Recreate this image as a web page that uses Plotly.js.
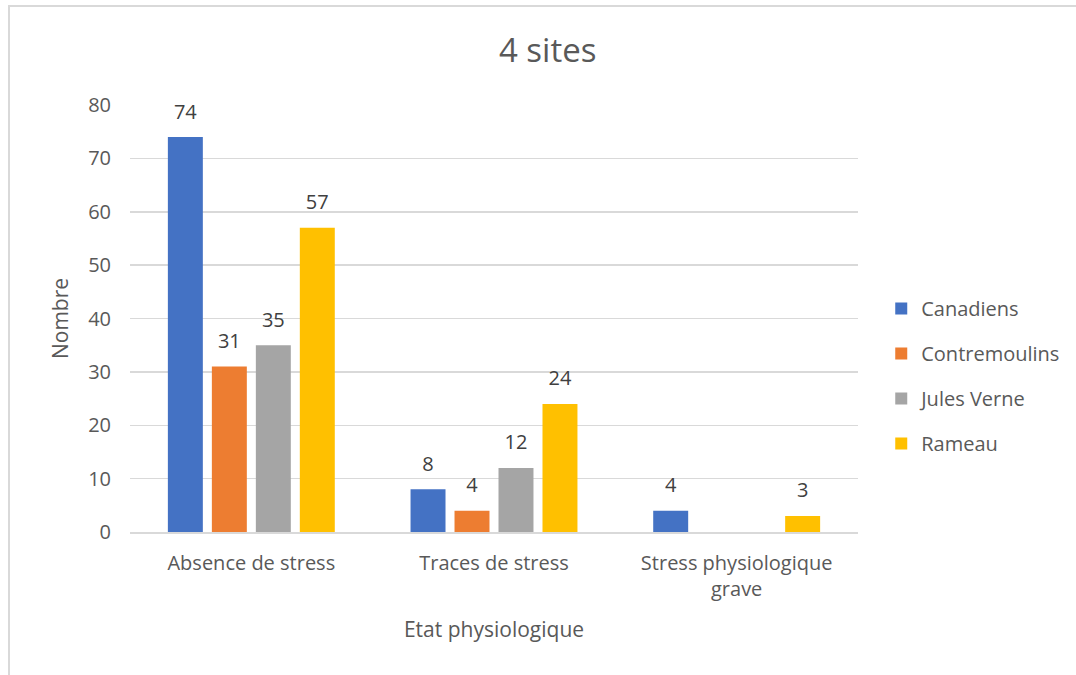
<!DOCTYPE html>
<html><head><meta charset="utf-8">
<script src="https://cdn.plot.ly/plotly-3.0.1.min.js"></script>
<style>
body{margin:0;padding:0;background:#fff;}
#plot{position:absolute;left:0;top:0;width:1076px;height:675px;}
#frame{position:absolute;left:8px;top:5px;width:1100px;height:700px;border:2px solid #d9d9d9;pointer-events:none;}
</style></head>
<body>
<div id="plot"></div>
<div id="frame"></div>
<script>
const categories = ["Absence de stress", "Traces de stress", "Stress physiologique<br>grave"];
const seriesNames = ["Canadiens", "Contremoulins", "Jules Verne", "Rameau"];
const canadiens = [74, 8, 4];
const contremoulins = [31, 4, 0];
const julesVerne = [35, 12, 0];
const rameau = [57, 24, 3];
const colors = ["#4472C4", "#ED7D31", "#A5A5A5", "#FFC000"];
const allValues = [canadiens, contremoulins, julesVerne, rameau];

const font = "Open Sans, Noto Sans, sans-serif";
const traces = [];
allValues.forEach((vals, i) => {
  traces.push({
    type: "bar",
    name: seriesNames[i],
    x: categories,
    y: vals,
    legendgroup: "g" + i,
    offsetgroup: "o" + i,
    alignmentgroup: "a",
    marker: {color: colors[i]},
    hoverinfo: "x+y+name"
  });
});
allValues.forEach((vals, i) => {
  traces.push({
    type: "scatter",
    mode: "markers+text",
    x: categories,
    y: vals,
    offsetgroup: "o" + i,
    alignmentgroup: "a",
    showlegend: false,
    marker: {size: 20, color: "rgba(0,0,0,0)"},
    text: vals.map(v => v === 0 ? "" : String(v)),
    textposition: "top center",
    cliponaxis: false,
    textfont: {family: font, size: 20, color: "#404040"},
    hoverinfo: "skip"
  });
});

const layout = {
  width: 1076, height: 675,
  margin: {l: 130, r: 218, t: 105, b: 143, autoexpand: false},
  paper_bgcolor: "#fff", plot_bgcolor: "#fff",
  font: {family: font, color: "#595959"},
  title: {text: "4 sites", font: {family: font, size: 33, color: "#595959"}, x: 0.509, xref: "container", xanchor: "center", y: 0.925, yanchor: "middle"},
  barmode: "group",
  bargap: 0.275,
  bargroupgap: 0.205,
  scattermode: "group",
  scattergap: 0.275,
  xaxis: {
    title: {text: "Etat physiologique", font: {family: font, size: 21, color: "#595959"}, standoff: 22},
    tickfont: {family: font, size: 20, color: "#595959"},
    showline: true, linecolor: "#d9d9d9", linewidth: 1.5,
    ticks: "", showgrid: false, ticklabelstandoff: 12
  },
  yaxis: {
    title: {text: "Nombre", font: {family: font, size: 21, color: "#595959"}, standoff: 13},
    range: [0, 80], dtick: 10,
    tickfont: {family: font, size: 20, color: "#595959"},
    gridcolor: "#d9d9d9", gridwidth: 1.5,
    zeroline: false, showline: false, ticks: "", ticklabelstandoff: 18
  },
  legend: {
    xref: "container", yref: "container",
    x: 0.819, y: 0.443, xanchor: "left", yanchor: "middle",
    font: {family: font, size: 20, color: "#595959"},
    traceorder: "grouped", tracegroupgap: 16,
    itemwidth: 30
  },
  showlegend: true
};

Plotly.newPlot("plot", traces, layout, {displayModeBar: false, staticPlot: true});
</script>
</body></html>
